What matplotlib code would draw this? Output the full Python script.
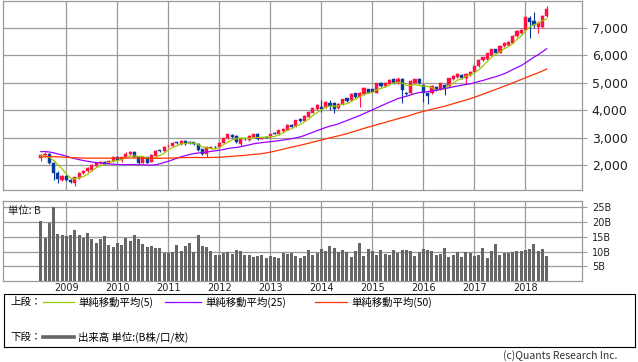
import matplotlib
matplotlib.use("Agg")
import matplotlib.pyplot as plt
from matplotlib.lines import Line2D
from matplotlib.patches import Rectangle
import numpy as np
import pandas as pd

# monthly candles, Jul 2008 .. Jun 2018
start_month = "2008-07"
opens = [2260, 2350, 2400, 2060, 1720, 1460, 1600, 1450, 1360, 1530,
         1700, 1780, 1800, 1980, 2090, 2120, 2070, 2150, 2300, 2180,
         2280, 2420, 2490, 2290, 2090, 2280, 2120, 2340, 2525, 2520,
         2680, 2700, 2820, 2760, 2870, 2850, 2830, 2760, 2580, 2400,
         2610, 2660, 2650, 2815, 2973, 3095, 3058, 2760, 2960, 2912,
         3010, 3130, 2960, 2990, 3030, 3160, 3130, 3230, 3277, 3470,
         3423, 3667, 3618, 3764, 3910, 4032, 4130, 4105, 4275, 4275,
         4068, 4226, 4433, 4373, 4616, 4470, 4592, 4762, 4762, 4640,
         5005, 4883, 4956, 5127, 4980, 5127, 4640, 4616, 5005, 5127,
         4920, 4616, 4616, 4835, 4762, 4920, 4884, 5127, 5200, 5285,
         5163, 5285, 5407, 5613, 5832, 5857, 6015, 6222, 6100, 6343,
         6380, 6465, 6708, 6806, 6927, 7353, 7268, 7025, 7025, 7450]
highs = [2400, 2460, 2430, 2100, 1780, 1650, 1620, 1480, 1580, 1740,
         1830, 1910, 2040, 2110, 2150, 2140, 2180, 2320, 2330, 2300,
         2460, 2520, 2510, 2310, 2300, 2300, 2400, 2540, 2560, 2690,
         2720, 2830, 2850, 2900, 2900, 2880, 2850, 2790, 2600, 2700,
         2680, 2700, 2840, 3000, 3140, 3130, 3080, 2990, 3000, 3080,
         3150, 3160, 3000, 3020, 3150, 3190, 3290, 3340, 3480, 3500,
         3660, 3700, 3810, 3970, 4090, 4210, 4372, 4340, 4372, 4300,
         4250, 4420, 4460, 4620, 4640, 4670, 4830, 4790, 4790, 5010,
         5040, 5030, 5130, 5160, 5225, 5160, 4680, 5100, 5150, 5160,
         4950, 4650, 4910, 4870, 5010, 4950, 5190, 5280, 5350, 5320,
         5350, 5430, 5640, 5860, 5960, 6100, 6250, 6250, 6370, 6490,
         6530, 6740, 6930, 6960, 7450, 7450, 7597, 7250, 7480, 7800]
lows = [2160, 2300, 2050, 1450, 1330, 1400, 1420, 1330, 1240, 1500,
        1680, 1750, 1770, 1950, 2030, 2040, 2040, 2120, 2150, 2120,
        2250, 2380, 2280, 2050, 2060, 2060, 2100, 2320, 2490, 2500,
        2660, 2680, 2780, 2740, 2740, 2760, 2730, 2500, 2380, 2300,
        2580, 2620, 2630, 2790, 2950, 3000, 2820, 2700, 2920, 2890,
        2990, 2920, 2940, 2970, 3000, 3130, 3100, 3210, 3260, 3380,
        3400, 3560, 3600, 3740, 3890, 4010, 3946, 4080, 4008, 3886,
        4040, 4200, 4300, 4350, 4440, 4105, 4570, 4610, 4650, 4610,
        4850, 4860, 4930, 4950, 4950, 4275, 4560, 4590, 4980, 4950,
        4311, 4227, 4590, 4710, 4740, 4555, 4860, 5100, 5180, 5140,
        5005, 5260, 5380, 5590, 5810, 5830, 5990, 6080, 6080, 6320,
        6360, 6440, 6680, 6780, 6900, 6623, 7000, 6806, 7000, 7420]
closes = [2350, 2420, 2090, 1720, 1480, 1600, 1460, 1370, 1550, 1720,
          1790, 1890, 2000, 2080, 2120, 2070, 2150, 2300, 2180, 2280,
          2420, 2490, 2300, 2090, 2280, 2090, 2370, 2510, 2515, 2670,
          2700, 2810, 2810, 2870, 2770, 2790, 2760, 2550, 2400, 2670,
          2640, 2640, 2815, 2973, 3120, 3035, 2850, 2960, 2940, 3058,
          3130, 2937, 2990, 2985, 3130, 3150, 3277, 3320, 3460, 3400,
          3640, 3593, 3788, 3946, 4068, 4190, 4032, 4312, 4154, 4032,
          4226, 4397, 4348, 4592, 4470, 4640, 4798, 4640, 4677, 4980,
          4883, 5005, 5102, 4980, 5127, 4737, 4591, 5078, 5127, 4980,
          4616, 4518, 4883, 4737, 4980, 4798, 5163, 5248, 5321, 5163,
          5321, 5407, 5613, 5832, 5930, 6076, 6222, 6100, 6343, 6465,
          6500, 6708, 6903, 6927, 7414, 7231, 7110, 7170, 7438, 7682]
# closes before Jul 2008 (not drawn), estimated so the 25/50 averages line up
pre_close = [1800, 1820, 1850, 1870, 1880, 1900, 1930, 1950, 1980, 2000,
             2030, 2050, 2080, 2100, 2130, 2160, 2190, 2220, 2250, 2280,
             2300, 2330, 2350, 2370, 2400, 2420, 2450, 2480, 2500, 2520,
             2550, 2580, 2600, 2620, 2620, 2610, 2600, 2580, 2560, 2540,
             2520, 2500, 2480, 2450, 2420, 2380, 2350, 2300, 2250]
volumes = [20.3, 14.6, 19.7, 25.1, 15.9, 15.5, 15.2, 15.5, 17.2, 15.5,
           14.6, 16.2, 14.2, 12.8, 14.2, 15.2, 12.1, 11.5, 12.8, 12.1,
           14.5, 13.5, 15.5, 14.2, 12.5, 11.5, 11.8, 11.1, 11.1, 9.5,
           9.5, 10.0, 12.1, 10.1, 11.8, 12.8, 9.8, 15.5, 11.8, 11.5,
           10.1, 8.7, 8.7, 9.4, 9.8, 9.1, 10.4, 10.1, 8.7, 8.7,
           8.1, 8.4, 8.7, 7.7, 8.4, 8.1, 7.7, 9.4, 9.1, 9.4,
           8.4, 7.7, 8.4, 10.4, 8.7, 9.4, 10.8, 10.1, 11.8, 11.1,
           9.8, 10.4, 9.8, 8.1, 10.1, 12.8, 8.4, 10.8, 10.1, 8.7,
           10.4, 9.1, 8.7, 10.4, 9.4, 10.4, 10.4, 10.1, 8.4, 9.8,
           10.8, 10.4, 10.1, 8.7, 9.1, 11.1, 8.1, 8.7, 9.8, 8.1,
           9.8, 9.4, 8.4, 8.7, 11.1, 7.7, 10.1, 12.5, 8.7, 9.4,
           9.4, 9.8, 10.1, 10.1, 10.4, 10.8, 12.5, 10.1, 10.8, 8.4]
ma_periods = [5, 25, 50]
ma_colors = ["#99cc00", "#9900ff", "#ff3300"]
price_ticks = [2000, 3000, 4000, 5000, 6000, 7000]
vol_ticks = [5, 10, 15, 20, 25]

W, H = 638, 362
GRID = "#9a9a9a"


def box(l, t, r, b):
    return [l / W, 1 - b / H, (r - l) / W, (b - t) / H]


def main():
    months = pd.date_range(start_month, periods=len(closes), freq="MS")
    x = np.arange(len(closes))
    o, h, l, c = (np.array(a, float) for a in (opens, highs, lows, closes))
    full = pd.Series(pre_close + closes)
    n_pre = len(pre_close)
    year_pos = x[months.month == 1]
    year_lab = [str(y) for y in months.year[months.month == 1]]

    plt.rcParams["font.family"] = ["Noto Sans CJK JP", "DejaVu Sans"]
    fig = plt.figure(figsize=(W / 100, H / 100), dpi=100)
    ax = fig.add_axes(box(3, 0.5, 582, 190))
    axv = fig.add_axes(box(3, 201, 582, 281))

    up = c >= o
    col = np.where(up, "#ff1144", "#0a3a99")
    ax.vlines(x, l, h, colors=col, lw=0.8, zorder=3)
    body = np.maximum(np.abs(c - o), 25)
    ax.bar(x, body, bottom=np.minimum(o, c), width=0.75, color=col,
           edgecolor=col, lw=0.3, zorder=3)
    for p, mc in zip(ma_periods, ma_colors):
        ma = full.rolling(p, min_periods=1).mean().values[n_pre:]
        ax.plot(x, ma, color=mc, lw=0.9, zorder=4)

    xlim = (-8.9, 127.3)
    for a in (ax, axv):
        a.set_xlim(*xlim)
        a.set_xticks(year_pos)
        a.grid(True, color=GRID, lw=0.9)
        a.set_axisbelow(True)
        for s in a.spines.values():
            s.set_color(GRID)
            s.set_linewidth(0.9)
        a.yaxis.tick_right()
        a.tick_params(axis="y", direction="out", length=3.6, width=0.8,
                      color=GRID, pad=3.5, labelcolor="#222222")
        a.tick_params(axis="x", length=0)
        a.tick_params(axis="y", left=False)

    ax.set_ylim(1088, 8004)
    ax.set_yticks(price_ticks)
    ax.set_yticklabels([f"{v:,}" for v in price_ticks], family="DejaVu Sans",
                       fontsize=9)
    ax.set_xticklabels([])

    axv.bar(x, volumes, width=0.72, color="#666666", zorder=3)
    axv.set_ylim(0, 27.2)
    axv.set_yticks(vol_ticks)
    axv.set_yticklabels([f"{v}B" for v in vol_ticks], family="DejaVu Sans",
                        fontsize=7)
    axv.set_xticklabels(year_lab, family="DejaVu Sans", fontsize=7,
                        color="#222222")
    axv.tick_params(axis="x", pad=1.5)
    axv.text(5 / 579, 0.94, "単位: B", transform=axv.transAxes,
             fontsize=7.5, va="top", ha="left", color="#222222")

    # legend box
    def fx(px):
        return px / W

    def fy(py):
        return 1 - py / H

    fig.patches.append(Rectangle((fx(3.5), fy(347)), fx(631), (347 - 294) / H,
                                 transform=fig.transFigure, fill=False,
                                 edgecolor="black", lw=0.8))
    row1, row2 = 302, 337
    fig.text(fx(10), fy(row1), "上段：", fontsize=7.5, va="center")
    labels = ["単純移動平均(5)", "単純移動平均(25)", "単純移動平均(50)"]
    line_x = [(43, 74), (165, 201), (315, 347)]
    for (a, b), mc, lab in zip(line_x, ma_colors, labels):
        fig.add_artist(Line2D([fx(a), fx(b)], [fy(row1), fy(row1)],
                              color=mc, lw=0.9, transform=fig.transFigure))
        fig.text(fx(b + 4), fy(row1), lab, fontsize=7.5, va="center")
    fig.text(fx(10), fy(row2), "下段：", fontsize=7.5, va="center")
    fig.add_artist(Line2D([fx(43), fx(74)], [fy(row2), fy(row2)],
                          color="#666666", lw=2.6, transform=fig.transFigure))
    fig.text(fx(78), fy(row2), "出来高 単位:(B株/口/枚)", fontsize=7.5,
             va="center")
    fig.text(fx(617), fy(356), "(c)Quants Research Inc.", fontsize=7.5,
             ha="right", va="center", color="#333333")

    fig.savefig("out.png", dpi=100)


if __name__ == "__main__":
    main()
